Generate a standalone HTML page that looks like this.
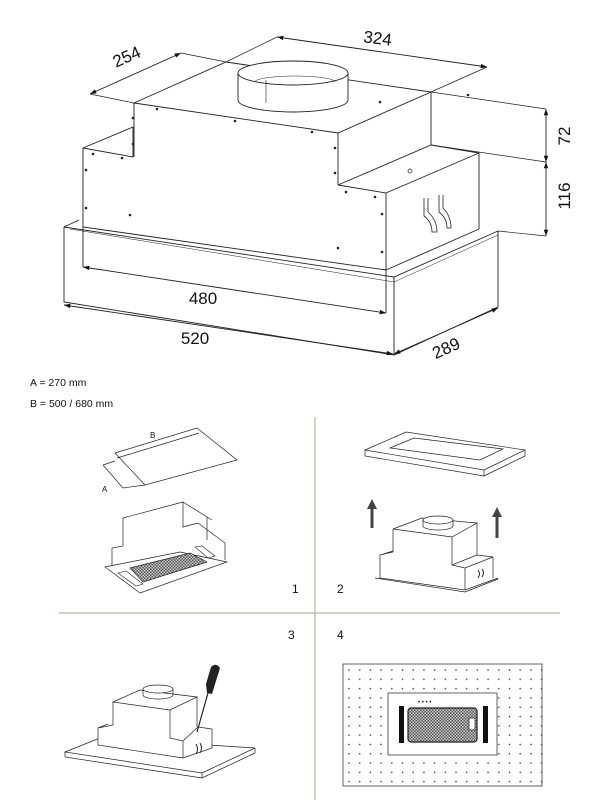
<!DOCTYPE html>
<html><head><meta charset="utf-8"><style>
html,body{margin:0;padding:0;background:#fff;}
svg{display:block;}
text{font-family:"Liberation Sans",sans-serif;fill:#111;}
</style></head><body>
<svg width="612" height="800" viewBox="0 0 612 800" xmlns="http://www.w3.org/2000/svg">
<defs>
<marker id="ar" viewBox="0 0 10 10" refX="10" refY="5" markerWidth="9" markerHeight="7" orient="auto-start-reverse"><path d="M0,1.5 L10,5 L0,8.5 z" fill="#111"/></marker>
<pattern id="dots" x="348" y="669" width="10.7" height="9.3" patternUnits="userSpaceOnUse"><circle cx="1" cy="1" r="0.8" fill="#333"/></pattern>
<pattern id="mesh" width="3" height="3" patternUnits="userSpaceOnUse"><rect width="3" height="3" fill="#555"/><rect width="1.5" height="1.5" fill="#ccc"/><rect x="1.5" y="1.5" width="1.5" height="1.5" fill="#ccc"/></pattern>
</defs>
<g fill="none" stroke="#222" stroke-width="0.9">
<path d="M64,227 L79,220 M64,227 L394,277 L498,231 M64,227 L64,302 L394,355 L498,307 L498,231 M394,277 L394,355"/>
<path d="M70,229 L394,282 L498,235" stroke-width="0.5"/>
<path d="M134,103 L226,62 L431,92 L338,133 Z" fill="#fff"/>
<path d="M134,103 L134,157 M338,133 L338,185 M431,92 L431,145"/>
<path d="M83,148 L133,127 L133,157 M83,148 L133,157"/>
<path d="M83,148 L83,227 L386,270 L386,193 L338,185 M386,193 L479,153 L479,229 L386,270 M338,185 L431,145 L479,153"/>
<path d="M83,227 L83,267 M386,270 L386,313"/>
<path d="M238,73 L238,100 A55,12 0 0 0 348,100 L348,73" fill="#fff"/>
<ellipse cx="293" cy="73" rx="55" ry="12" fill="#fff"/>
<path d="M255,82 A40,6 0 0 1 335,82" stroke-width="0.6"/>
<path d="M266,80 L266,103" stroke-width="0.6"/>
<path d="M424,198 L424,216 Q432,222 432,232 L437,232 Q437,220 428,212 L428,198 M439,195 L439,212 Q447,218 447,228 L451,228 Q451,216 443,208 L443,195" stroke-width="0.8"/>
<path d="M90,94 L134,103 M181,53 L226,62 M226,62 L277,37 M431,92 L487,67 M431,92 L546,109 M431,145 L546,162 M498,231 L546,236" stroke-width="0.7"/>
<path d="M90,94 L181,53" marker-start="url(#ar)" marker-end="url(#ar)"/>
<path d="M277,37 L487,67" marker-start="url(#ar)" marker-end="url(#ar)"/>
<path d="M546,109 L546,162" marker-start="url(#ar)" marker-end="url(#ar)"/>
<path d="M546,162 L546,236" marker-start="url(#ar)" marker-end="url(#ar)"/>
<path d="M83,267 L386,313" marker-start="url(#ar)" marker-end="url(#ar)"/>
<path d="M64,305 L393,354" marker-start="url(#ar)" marker-end="url(#ar)"/>
<path d="M394,354 L498,308" marker-start="url(#ar)" marker-end="url(#ar)"/>
</g>
<g fill="#222">
<circle cx="157" cy="109" r="1.3"/><circle cx="235" cy="121" r="1.3"/><circle cx="312" cy="132" r="1.3"/><circle cx="133" cy="118" r="1.3"/><circle cx="133" cy="144" r="1.3"/>
<circle cx="93" cy="154" r="1.3"/><circle cx="122" cy="158" r="1.3"/><circle cx="86" cy="170" r="1.3"/><circle cx="86" cy="208" r="1.3"/><circle cx="130" cy="215" r="1.3"/>
<circle cx="335" cy="148" r="1.3"/><circle cx="335" cy="173" r="1.3"/><circle cx="346" cy="192" r="1.3"/><circle cx="375" cy="197" r="1.3"/><circle cx="382" cy="214" r="1.3"/><circle cx="382" cy="252" r="1.3"/><circle cx="338" cy="248" r="1.3"/>
<circle cx="410" cy="171" r="2" fill="none" stroke="#222" stroke-width="0.7"/>
<circle cx="380" cy="102" r="1.3"/><circle cx="468" cy="95" r="1.3"/>
</g>
<text x="129" y="62" font-size="17" text-anchor="middle" transform="rotate(-24 129 62)">254</text>
<text x="377" y="44" font-size="17" text-anchor="middle" transform="rotate(7 377 44)">324</text>
<text x="0" y="0" font-size="17" text-anchor="middle" transform="translate(570,136) rotate(-90)">72</text>
<text x="0" y="0" font-size="17" text-anchor="middle" transform="translate(570,196) rotate(-90)">116</text>
<text x="203" y="304" font-size="17" text-anchor="middle">480</text>
<text x="195" y="344" font-size="17" text-anchor="middle">520</text>
<text x="446" y="354" font-size="17" text-anchor="middle" transform="rotate(-24 446 348)">289</text>
<text x="30" y="386" font-size="10.5">A = 270 mm</text>
<text x="30" y="407" font-size="10.5">B = 500 / 680 mm</text>
<path d="M315,417 L315,800 M59,613 L560,613" stroke="#b8b49c" stroke-width="1.2"/>
<text x="292" y="593" font-size="12">1</text><text x="337" y="593" font-size="12">2</text>
<text x="288" y="639" font-size="12">3</text><text x="337" y="639" font-size="12">4</text>
<g fill="none" stroke="#222" stroke-width="0.7">
<!-- Q1 plates -->
<path d="M115,453 L197,428 L237,460 L145,485 Z"/>
<path d="M103,465 L115,461 M103,465 L123,488 L145,485 M117,458 L199,433"/>
<text x="150" y="438" font-size="8" stroke="none">B</text><text x="102" y="492" font-size="8" stroke="none">A</text>
<!-- Q1 hood -->
<path d="M112,567 L112,548 L123,546 L123,518 L183,502 L183,527 L198,523 M183,502 L207,517 L207,540 M198,523 L225,543 L225,560 M207,517 L212,520"/>
<path d="M105,567 L180,552 L227,562 L140,593 Z" fill="#fff"/>
<path d="M130,568 L190,553 L207,562 L143,582 Z" fill="url(#mesh)"/>
<path d="M118,573 L126,571 L143,584 L136,586 Z M195,547 L202,546 L215,556 L208,558 Z" stroke-width="0.6"/>
<!-- Q2 frame -->
<path d="M365,450 L406,432 L525,450 L484,470 Z M365,450 L365,456 L484,476 L525,456 L525,450 M484,470 L484,476"/>
<path d="M390,448 L414,438 L503,449 L480,460 Z"/>
<!-- Q2 hood -->
<path d="M393,529 L422,518 L477,523 L452,537 Z M393,529 L393,552 L380,555 L380,578 L465,590 L498,578 M380,555 L393,551 M452,537 L452,565 L477,555 L493,557 L465,568 L452,565 M465,568 L465,590 M493,557 L493,578 M477,523 L477,555 M375,578 L465,592 L498,579"/>
<ellipse cx="438" cy="520" rx="15" ry="4" fill="#fff"/><path d="M423,520 L423,526 A15,4 0 0 0 453,526 L453,520"/>
<path d="M478,570 q3,4 0,8 M482,569 q3,4 0,8" stroke-width="1"/>
<!-- Q3 plate -->
<path d="M65,752 L100,738 L255,748 L202,773 Z M65,752 L65,757 L202,778 L255,753 L255,748 M202,773 L202,778" fill="#fff"/>
<path d="M113,702 L140,690 L197,697 L170,710 Z M113,702 L113,725 L98,728 L98,745 L183,758 L212,748 L212,729 L198,727 L183,741 L170,738 L170,710 M98,728 L108,724 M197,697 L197,727 M183,741 L183,758 M198,727 L212,729" fill="#fff"/>
<ellipse cx="158" cy="689" rx="15" ry="4" fill="#fff"/><path d="M143,689 L143,695 A15,4 0 0 0 173,695 L173,689"/>
<path d="M196,744 q3,5 0,10 M200,743 q3,5 0,10" stroke-width="1"/>
<path d="M208,693 L197,732" stroke-width="1.2"/>
<!-- Q4 -->
<rect x="343" y="664" width="199" height="122" fill="url(#dots)"/>
<rect x="388" y="693" width="109" height="62" fill="#fff"/>
<rect x="408" y="708" width="69" height="34" rx="3" fill="url(#mesh)" stroke-width="1.2"/>
<rect x="469" y="718" width="6" height="12" fill="#fff"/>
</g>
<path d="M211,667 Q216,662 220,668 L212,694 L207,693 L206,684 Z" fill="#222"/>
<rect x="399" y="706" width="5" height="37" fill="#111"/><rect x="483" y="706" width="5" height="37" fill="#111"/>
<text x="418" y="704" font-size="6" fill="#333">• • • •</text>
<g fill="#444">
<rect x="370.5" y="508" width="3" height="20"/><path d="M367,509 L372,499 L377,509 Z"/>
<rect x="495.5" y="516" width="3" height="22"/><path d="M492,517 L497,507 L502,517 Z"/>
</g>
</svg>
</body></html>
